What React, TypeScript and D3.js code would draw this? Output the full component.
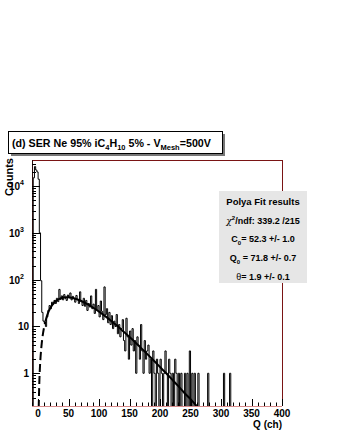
import React from "react";
import * as d3 from "d3";

const W = 338;
const H = 437;
const plot = { left: 32, right: 282, top: 160, bottom: 406 };
const font = "'Liberation Sans', Arial, Helvetica, sans-serif";

// histogram: 2-channel bins, lower edges from -10 upward
const binWidth = 2;
const binStart = -10;
const counts = [
  0, 15000, 26000, 22000, 20000, 14000, 1000, 95, 20, 13,
  12, 10, 16, 22, 28, 24, 33, 30, 36, 31,
  40, 34, 62, 38, 45, 37, 48, 40, 36, 47,
  41, 52, 37, 44, 39, 33, 46, 38, 31, 55,
  34, 28, 40, 27, 36, 22, 31, 26, 45, 24,
  30, 19, 62, 22, 28, 16, 35, 21, 14, 70,
  18, 24, 12, 20, 11, 17, 9, 13, 10, 18,
  7, 11, 6, 9, 14, 5, 3, 15, 6, 2,
  8, 4, 9, 3, 5, 1, 6, 4, 2, 11,
  3, 1, 5, 2, 3, 4, 1, 2, 0, 3,
  1, 0, 2, 1, 0, 2, 1, 0, 1, 3,
  1, 0, 2, 1, 0, 1, 0, 2, 1, 0,
  1, 0, 1, 0, 0, 1, 0, 1, 0, 3,
  0, 1, 0, 1, 0, 0, 1, 0, 0, 0,
];
// isolated single counts further out (lower edge, count)
const tailEdges = [278, 304, 314];
const tailCounts = [1, 1, 1];

// Polya fit curve
const fitQ = [1, 2, 3, 4, 6, 8, 10, 12, 15, 20, 25, 30, 35, 40, 45, 50, 55, 60, 70, 80, 90, 100, 110, 120, 130, 140, 150, 160, 170, 180, 190, 200, 210, 220, 230, 240, 250, 260];
const fitV = [0.18, 0.64, 1.33, 2.2, 4.4, 7.0, 9.9, 12.9, 17.5, 24.7, 30.8, 35.6, 39.0, 41.1, 41.9, 41.9, 41.0, 39.6, 35.4, 30.5, 25.4, 20.7, 16.6, 13.1, 10.2, 7.8, 5.95, 4.5, 3.36, 2.5, 1.85, 1.36, 1.0, 0.73, 0.53, 0.38, 0.28, 0.2];
const fitRangeStart = 12;

const xMajor = [0, 50, 100, 150, 200, 250, 300, 350, 400];
const yMajor = [1, 10, 100, 1000, 10000];
const yExp = ["", "", "2", "3", "4"];

export default function App() {
  const x = d3.scaleLinear().domain([-10, 400]).range([plot.left, plot.right]);
  const y = d3.scaleLog().domain([0.2, 36000]).range([plot.bottom, plot.top]);

  const nBins = (400 - binStart) / binWidth;
  const bins = d3.range(nBins).map((i) => {
    const edge = binStart + i * binWidth;
    let v = i < counts.length ? counts[i] : 0;
    const t = tailEdges.indexOf(edge);
    if (t >= 0) v = tailCounts[t];
    return { q: edge, v };
  });
  bins.push({ q: 400, v: bins[bins.length - 1].v });

  const yc = (v: number) => (v > 0 ? y(v) : plot.bottom + 20);
  const histLine = d3
    .line<{ q: number; v: number }>()
    .x((d) => x(d.q))
    .y((d) => yc(d.v))
    .curve(d3.curveStepAfter);
  const histPath = `M${x(binStart)},${plot.bottom + 20}L` + histLine(bins)!.slice(1);

  const fitPts = fitQ.map((q, i) => ({ q, v: fitV[i] }));
  const fitLine = d3
    .line<{ q: number; v: number }>()
    .x((d) => x(d.q))
    .y((d) => y(d.v))
    .curve(d3.curveMonotoneX);
  const dashed = fitPts.filter((d) => d.q <= fitRangeStart);
  const solid = fitPts.filter((d) => d.q >= fitRangeStart);

  const xMinor = d3.range(-10, 401, 10).filter((v) => v % 50 !== 0);
  const yMinor: number[] = [];
  for (let k = -1; k <= 4; k++) {
    for (let m = 2; m <= 9; m++) {
      const v = m * Math.pow(10, k);
      if (v >= 0.2 && v <= 36000) yMinor.push(v);
    }
  }

  return (
    <svg width={W} height={H} style={{ position: "absolute", left: 0, top: 0, background: "#fff" }} fontFamily={font}>
      <defs>
        <clipPath id="frame">
          <rect x={plot.left} y={plot.top} width={plot.right - plot.left} height={plot.bottom - plot.top} />
        </clipPath>
      </defs>

      {/* title pave */}
      <rect x={11} y={134} width={214} height={22} fill="#777" />
      <rect x={8.5} y={131.5} width={214} height={22} fill="#fff" stroke="#000" strokeWidth={1} />
      <text x={12} y={147} fontSize={10.7} fontWeight="bold">
        (d) SER Ne 95% iC
        <tspan fontSize={7.5} dy={3}>4</tspan>
        <tspan dy={-3}>H</tspan>
        <tspan fontSize={7.5} dy={3}>10</tspan>
        <tspan dy={-3}> 5% - V</tspan>
        <tspan fontSize={7.5} dy={3}>Mesh</tspan>
        <tspan dy={-3}>=500V</tspan>
      </text>

      {/* frame */}
      <line x1={plot.left} x2={plot.right} y1={plot.top + 0.5} y2={plot.top + 0.5} stroke="#7a1414" />
      <line x1={plot.right + 0.5} x2={plot.right + 0.5} y1={plot.top} y2={plot.bottom} stroke="#7a1414" />

      <g clipPath="url(#frame)">
        <path d={histPath} fill="none" stroke="#000" strokeWidth={1} />
        <path d={fitLine(dashed)!} fill="none" stroke="#000" strokeWidth={2} strokeDasharray="8,4" />
        <path d={fitLine(solid)!} fill="none" stroke="#000" strokeWidth={2} />
      </g>

      {/* y axis */}
      <line x1={plot.left + 0.5} x2={plot.left + 0.5} y1={plot.top} y2={plot.bottom} stroke="#2a0c0c" />
      {yMajor.map((v) => (
        <line key={"ym" + v} x1={plot.left} x2={plot.left + 8} y1={Math.round(y(v)) + 0.5} y2={Math.round(y(v)) + 0.5} stroke="#000" />
      ))}
      {yMinor.map((v) => (
        <line key={"yn" + v} x1={plot.left} x2={plot.left + 4} y1={Math.round(y(v)) + 0.5} y2={Math.round(y(v)) + 0.5} stroke="#000" />
      ))}
      {yMajor.map((v, i) => (
        <text key={"yl" + v} x={yExp[i] ? 24 : 29} y={y(v) + 4} fontSize={10} fontWeight="bold" textAnchor="end">
          {v === 1 ? "1" : "10"}
          {yExp[i] && (
            <tspan fontSize={7} dy={-5}>
              {yExp[i]}
            </tspan>
          )}
        </text>
      ))}
      <text transform={`translate(13,158) rotate(-90)`} fontSize={11} fontWeight="bold" textAnchor="end">
        Counts
      </text>

      {/* x axis */}
      <line x1={plot.left} x2={plot.right} y1={plot.bottom + 0.5} y2={plot.bottom + 0.5} stroke="#d88a8a" />
      {xMajor.map((v) => (
        <line key={"xm" + v} x1={Math.round(x(v)) + 0.5} x2={Math.round(x(v)) + 0.5} y1={plot.bottom} y2={plot.bottom - 7} stroke="#000" />
      ))}
      {xMinor.map((v) => (
        <line key={"xn" + v} x1={Math.round(x(v)) + 0.5} x2={Math.round(x(v)) + 0.5} y1={plot.bottom} y2={plot.bottom - 3.5} stroke="#000" />
      ))}
      {xMajor.map((v) => (
        <text key={"xl" + v} x={x(v)} y={plot.bottom + 11} fontSize={10} fontWeight="bold" textAnchor="middle">
          {v}
        </text>
      ))}
      <text x={plot.right} y={428} fontSize={10} fontWeight="bold" textAnchor="end">
        Q (ch)
      </text>

      {/* stats pave */}
      <rect x={219} y={191} width={88} height={92} fill="#e6e6e6" />
      <text x={263} y={205} fontSize={9.5} fontWeight="bold" textAnchor="middle">
        Polya Fit results
      </text>
      <text x={263} y={224} fontSize={9} fontWeight="bold" textAnchor="middle">
        <tspan fontWeight="normal" fontFamily="'DejaVu Serif', serif" fontStyle="italic">χ</tspan>
        <tspan fontSize={6} dy={-4}>2</tspan>
        <tspan dy={4}>/ndf: 339.2 /215</tspan>
      </text>
      <text x={263} y={242} fontSize={9} fontWeight="bold" textAnchor="middle">
        C<tspan fontSize={6} dy={3}>0</tspan>
        <tspan dy={-3}>= 52.3 +/- 1.0</tspan>
      </text>
      <text x={263} y={261} fontSize={9} fontWeight="bold" textAnchor="middle">
        Q<tspan fontSize={6} dy={3}>0</tspan>
        <tspan dy={-3}> = 71.8 +/- 0.7</tspan>
      </text>
      <text x={263} y={280} fontSize={9} fontWeight="bold" textAnchor="middle">
        <tspan fontWeight="normal">θ</tspan>= 1.9 +/- 0.1
      </text>
    </svg>
  );
}
